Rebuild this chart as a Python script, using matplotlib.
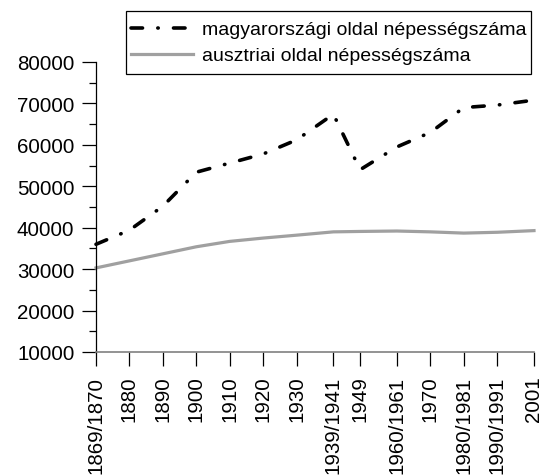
import matplotlib
matplotlib.use("Agg")
import matplotlib.pyplot as plt
from matplotlib.path import Path
from matplotlib.ticker import MultipleLocator

plt.rcParams['font.family'] = ['Liberation Sans', 'DejaVu Sans']
plt.rcParams['lines.scale_dashes'] = False

# census years (numeric position) and their labels
years = [1870, 1880, 1890, 1900, 1910, 1920, 1930, 1941, 1949, 1960, 1970, 1980, 1990, 2001]
year_labels = ['1869/1870', '1880', '1890', '1900', '1910', '1920', '1930',
               '1939/1941', '1949', '1960/1961', '1970', '1980/1981', '1990/1991', '2001']

# population values
hungarian_side = [36000, 39400, 45200, 53400, 55600, 57800, 61200,
                  67400, 54000, 59500, 63000, 69000, 69600, 70800]
austrian_side = [30300, 32000, 33700, 35400, 36700, 37500, 38200,
                 39000, 39100, 39200, 39000, 38700, 38900, 39300]


# legend frame with more room above and below than at the sides
def tall_frame(x0, y0, width, height, mutation_size):
    extra = 5
    y0 = y0 - extra
    y1 = y0 + height + 2 * extra
    x1 = x0 + width
    return Path([(x0, y0), (x1, y0), (x1, y1), (x0, y1), (x0, y0)], closed=True)


fig = plt.figure(figsize=(5.4, 4.77), dpi=100)
ax = fig.add_axes([96/540, 1 - 353/477, (534 - 96)/540, (353 - 63)/477])

ax.plot(years, hungarian_side, color='black', linewidth=2.6,
        linestyle=(0, (8.3, 11, 0.3, 11)), dash_capstyle='round',
        solid_capstyle='round', label='magyarországi oldal népességszáma',
        clip_on=False, zorder=3)
ax.plot(years, austrian_side, color='#a0a0a0', linewidth=2.3,
        label='ausztriai oldal népességszáma', clip_on=False, zorder=2)

ax.set_xlim(1870, 2001)
ax.set_ylim(10000, 80000)
ax.set_xticks(years)
ax.set_xticklabels(year_labels, rotation=90)
ax.yaxis.set_major_locator(MultipleLocator(10000))
ax.yaxis.set_minor_locator(MultipleLocator(5000))

ax.spines['top'].set_visible(False)
ax.spines['right'].set_visible(False)
ax.spines['left'].set_color('black')
ax.spines['left'].set_linewidth(0.9)
ax.spines['bottom'].set_color('#808080')
ax.spines['bottom'].set_linewidth(1.2)

ax.tick_params(axis='both', which='major', length=10, width=0.9, color='black',
               labelsize=14.8)
ax.tick_params(axis='y', which='major', pad=5.5)
ax.tick_params(axis='y', which='minor', length=5, width=0.9, color='black')
ax.tick_params(axis='x', which='major', pad=7)

leg = fig.legend(loc='upper left', bbox_to_anchor=(126/540, 1 - 17/477),
                 borderaxespad=0, frameon=True, fancybox=False,
                 edgecolor='black', framealpha=1, fontsize=14,
                 handlelength=3.2, handletextpad=0.45,
                 borderpad=0.25, labelspacing=0.43)
leg.get_frame().set_linewidth(0.9)
leg.get_frame().set_boxstyle(tall_frame)

fig.savefig('out.png', dpi=100)
